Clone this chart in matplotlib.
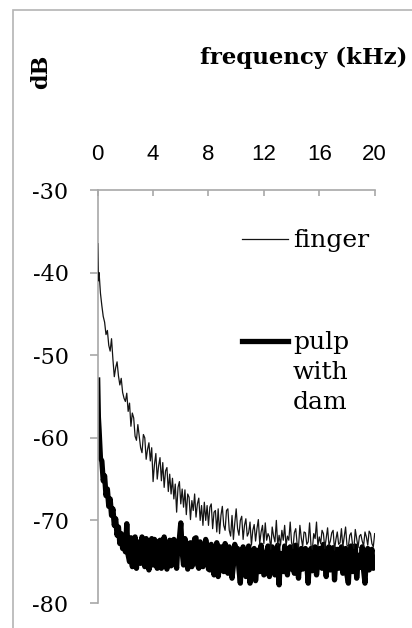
#!/usr/bin/env python3
# -*- coding: utf-8 -*-

import numpy as np
import matplotlib
matplotlib.use('Agg')
import matplotlib.pyplot as plt
from matplotlib.lines import Line2D
from matplotlib.patches import Rectangle

# frequency grid (kHz): 0, 0.05, then every 0.1 kHz
freq_khz = np.concatenate([[0.0, 0.05], np.round(np.arange(0.1, 20.001, 0.1), 2)])

# finger
finger_db = [
    -36.5, -41.0,
    -40.0, -42.5, -44.0, -45.3, -46.0, -47.5, -47.0, -48.8, -49.5, -48.0,
    -50.5, -52.6, -51.5, -50.8, -52.5, -53.6, -52.8, -54.5, -55.2, -55.6,
    -54.6, -56.8, -55.8, -58.6, -57.0, -57.6, -59.8, -60.3, -58.4, -59.8,
    -61.2, -61.8, -59.6, -60.0, -62.6, -61.4, -60.6, -62.8, -61.2, -65.3,
    -63.2, -61.9, -65.0, -63.4, -62.4, -65.2, -63.0, -66.0, -64.0, -63.6,
    -66.5, -64.4, -66.8, -64.9, -67.4, -65.6, -69.0, -66.0, -65.3, -68.0,
    -66.2, -68.4, -66.3, -69.3, -66.8, -67.2, -69.9, -67.6, -68.8, -66.8,
    -69.6, -68.0, -67.3, -70.0, -68.2, -70.6, -67.8, -70.0, -68.2, -70.6,
    -68.4, -68.0, -71.0, -69.0, -68.8, -71.4, -68.6, -71.6, -69.4, -68.3,
    -70.6, -71.2, -68.8, -68.6, -71.2, -71.9, -69.4, -72.3, -70.3, -68.6,
    -71.0, -71.8, -70.0, -69.5, -72.3, -70.6, -69.8, -71.9, -71.5, -70.2,
    -73.0, -71.2, -70.5, -72.5, -71.0, -69.9, -72.8, -71.4, -70.6, -72.8,
    -70.3, -72.4, -71.6, -72.0, -73.5, -70.8, -71.9, -72.6, -70.0, -73.0,
    -71.8, -73.0, -71.2, -72.4, -70.6, -73.1, -71.9, -72.4, -70.2, -72.7,
    -73.4, -71.5, -71.0, -72.8, -73.3, -70.6, -72.1, -73.2, -71.4, -71.5,
    -72.9, -72.6, -70.3, -73.0, -73.5, -71.6, -72.2, -70.2, -73.1, -72.0,
    -72.8, -71.2, -71.6, -73.4, -72.1, -70.9, -73.0, -72.5, -71.5, -71.2,
    -73.6, -72.3, -71.4, -72.9, -72.7, -71.0, -73.2, -72.0, -70.8, -73.0,
    -73.2, -71.8, -71.5, -72.9, -73.4, -71.1, -72.2, -73.3, -71.9, -71.7,
    -72.5, -73.1, -71.4, -72.0, -73.0, -71.3, -71.6, -72.8, -73.2, -71.6,
]

# pulp with dam
pulp_db = [
    -53.0, -57.5,
    -59.0, -62.5, -62.8, -65.2, -64.6, -67.0, -66.2, -68.3, -67.4, -69.4,
    -68.6, -70.6, -69.8, -71.8, -70.8, -72.8, -71.6, -73.4, -72.4, -73.8,
    -70.4, -74.2, -75.0, -72.1, -75.6, -74.2, -72.0, -75.8, -72.6, -74.8,
    -75.2, -72.0, -73.6, -75.6, -72.2, -73.2, -76.0, -74.0, -72.2, -75.4,
    -72.3, -74.8, -75.8, -72.6, -72.4, -75.8, -74.2, -72.0, -75.2, -75.9,
    -73.2, -72.4, -75.5, -74.6, -72.3, -74.9, -75.8, -72.6, -72.2, -70.3,
    -73.8, -75.4, -72.2, -72.9, -75.9, -74.2, -72.7, -75.6, -74.8, -72.2,
    -72.1, -75.3, -75.8, -72.6, -73.2, -75.6, -75.0, -72.3, -73.4, -75.9,
    -76.0, -72.9, -73.8, -76.6, -75.2, -72.7, -76.8, -75.4, -73.2, -74.0,
    -76.2, -72.8, -74.5, -76.4, -73.2, -73.8, -77.0, -75.4, -72.9, -74.9,
    -73.4, -75.9, -77.6, -74.0, -73.2, -75.6, -76.8, -74.4, -73.1, -77.6,
    -74.0, -76.2, -73.4, -77.3, -75.4, -73.6, -76.2, -73.0, -74.9, -76.6,
    -76.3, -73.8, -73.1, -76.8, -75.2, -73.2, -75.6, -76.6, -74.0, -73.0,
    -77.8, -74.0, -75.3, -76.2, -73.1, -74.4, -76.6, -73.8, -73.2, -75.9,
    -74.0, -76.4, -73.0, -74.8, -77.0, -74.6, -73.4, -75.9, -74.0, -73.4,
    -75.4, -77.6, -74.0, -73.4, -76.1, -75.0, -73.2, -76.6, -75.0, -73.4,
    -74.4, -75.8, -72.9, -74.6, -76.8, -74.0, -73.2, -76.0, -75.0, -73.3,
    -77.2, -74.6, -73.5, -75.8, -74.2, -73.2, -76.4, -74.4, -73.4, -76.6,
    -77.6, -74.2, -73.1, -76.2, -74.0, -73.1, -77.0, -75.0, -74.2, -75.7,
    -73.2, -76.0, -77.6, -74.2, -73.4, -76.0, -74.6, -73.5, -75.8, -74.8,
]

x_ticks = [0, 4, 8, 12, 16, 20]
y_ticks = [-30, -40, -50, -60, -70, -80]

serif = 'DejaVu Serif'
grey = '#a8a8a8'

fig = plt.figure(figsize=(4.12, 6.28), dpi=100)
ax = fig.add_axes([0.2371, 0.0398, 0.6723, 0.6576])

pulp_line, = ax.plot(freq_khz, pulp_db, color='black', lw=3.8,
                     solid_joinstyle='round', zorder=2)
finger_line, = ax.plot(freq_khz, finger_db, color='#141414', lw=0.9, zorder=3)

ax.set_xlim(0, 20)
ax.set_ylim(-80, -30)
ax.xaxis.tick_top()
ax.set_xticks(x_ticks)
ax.set_yticks(y_ticks)
ax.set_xticklabels([str(t) for t in x_ticks], fontsize=16, family='Liberation Sans')
ax.set_yticklabels([str(t) for t in y_ticks], fontsize=16, family=serif)
ax.tick_params(axis='x', direction='in', length=4, width=1.2, color=grey, pad=18)
ax.tick_params(axis='y', direction='out', length=6, width=1.2, color=grey, pad=15)

for side in ['right', 'bottom']:
    ax.spines[side].set_visible(False)
for side in ['left', 'top']:
    ax.spines[side].set_color(grey)
    ax.spines[side].set_linewidth(1.2)

# legend: "finger" on its own, then "pulp / with / dam" with the handle on the first line
blank = Line2D([], [], lw=0)
leg1 = ax.legend([finger_line], ['finger'], loc='upper left',
                 bbox_to_anchor=(0.52, 0.905), frameon=False, borderpad=0,
                 borderaxespad=0, prop={'family': serif, 'size': 18},
                 handlelength=1.85, handletextpad=0.2)
ax.add_artist(leg1)
leg2 = ax.legend([pulp_line, blank, blank], ['pulp', 'with', 'dam'],
                 loc='upper left', bbox_to_anchor=(0.52, 0.658), frameon=False,
                 borderpad=0, borderaxespad=0, prop={'family': serif, 'size': 18},
                 handlelength=1.85, handletextpad=0.2, labelspacing=0.27)

fig.text(0.485, 0.9076, 'frequency (kHz)', fontsize=16.5, family=serif,
         weight='bold', ha='left', va='center')
fig.text(0.0995, 0.885, 'dB', fontsize=16, family=serif, weight='bold',
         rotation=90, ha='center', va='center')

# chart area border (only top/left visible in the crop)
fig.patches.append(Rectangle((13 / 412, -0.1), 1.0, 1.1 - 10 / 628,
                             transform=fig.transFigure, fill=False,
                             edgecolor='#b4b4b4', lw=1.2))

fig.savefig('out.png', dpi=100)
